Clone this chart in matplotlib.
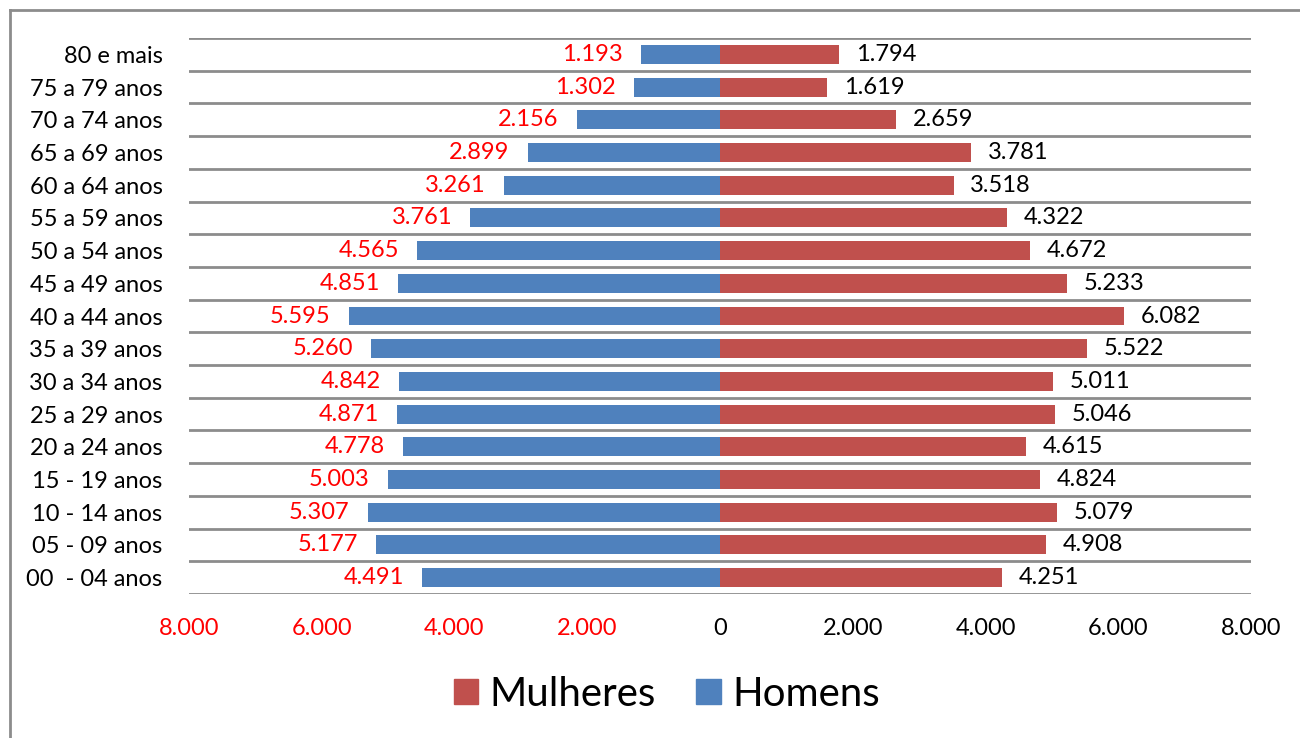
import matplotlib.pyplot as plt
from matplotlib.lines import Line2D
from matplotlib.patches import Patch

plt.rcParams['font.family'] = ['Lato', 'DejaVu Sans']

categories = ["80 e mais", "75 a 79 anos", "70 a 74 anos", "65 a 69 anos", "60 a 64 anos",
              "55 a 59 anos", "50 a 54 anos", "45 a 49 anos", "40 a 44 anos", "35 a 39 anos",
              "30 a 34 anos", "25 a 29 anos", "20 a 24 anos", "15 - 19 anos", "10 - 14 anos",
              "05 - 09 anos", "00  - 04 anos"]
homens = [1193, 1302, 2156, 2899, 3261, 3761, 4565, 4851, 5595, 5260, 4842, 4871, 4778,
          5003, 5307, 5177, 4491]
mulheres = [1794, 1619, 2659, 3781, 3518, 4322, 4672, 5233, 6082, 5522, 5011, 5046, 4615,
            4824, 5079, 4908, 4251]
xticks = [-8000, -6000, -4000, -2000, 0, 2000, 4000, 6000, 8000]

BLUE = '#4F81BD'
RED = '#C0504D'
GRID = '#8C8C8C'
FS = 17


def fmt(v):
    return f"{abs(int(v)):,}".replace(",", ".")


fig = plt.figure(figsize=(13, 7.38), dpi=100)
ax = fig.add_axes([189 / 1300, 1 - 594 / 738, (1251 - 189) / 1300, (594 - 38) / 738])

n = len(categories)
ypos = [n - 1 - i for i in range(n)]
bh = 0.58
ax.barh(ypos, [-h for h in homens], height=bh, color=BLUE, label='Homens', zorder=3)
ax.barh(ypos, mulheres, height=bh, color=RED, label='Mulheres', zorder=3)

for y, h, m in zip(ypos, homens, mulheres):
    ax.annotate(fmt(h), (-h, y), xytext=(-13, 0), textcoords='offset points',
                ha='right', va='center', color='red', fontsize=FS)
    ax.annotate(fmt(m), (m, y), xytext=(12, 0), textcoords='offset points',
                ha='left', va='center', color='black', fontsize=FS)

ax.set_xlim(-8000, 8000)
ax.set_ylim(-0.5, n - 0.5)
for k in range(n + 1):
    ax.axhline(k - 0.5, color=GRID, lw=2.0, zorder=1)

ax.set_yticks(ypos)
ax.set_yticklabels(categories, fontsize=FS)
ax.set_xticks(xticks)
ax.set_xticklabels([fmt(v) for v in xticks], fontsize=FS)
for lbl, v in zip(ax.get_xticklabels(), xticks):
    lbl.set_color('red' if v < 0 else 'black')
ax.tick_params(axis='y', length=0, pad=19)
ax.tick_params(axis='x', length=0, pad=17)
for s in ax.spines.values():
    s.set_visible(False)

handles = [Patch(color=RED), Patch(color=BLUE)]
fig.legend(handles, ['Mulheres', 'Homens'], loc='center', bbox_to_anchor=(667 / 1300, 1 - 694 / 738),
           ncol=2, frameon=False, fontsize=29, handlelength=0.6, handleheight=0.6,
           handletextpad=0.3, columnspacing=1.0)

# figure border (left and top)
fig.add_artist(Line2D([9.5 / 1300, 9.5 / 1300], [0, 1 - 9.5 / 738], transform=fig.transFigure,
                      color='#8C8C8C', lw=2))
fig.add_artist(Line2D([9.5 / 1300, 1], [1 - 9.5 / 738, 1 - 9.5 / 738], transform=fig.transFigure,
                      color='#8C8C8C', lw=2))

fig.savefig('out.png', dpi=100)
